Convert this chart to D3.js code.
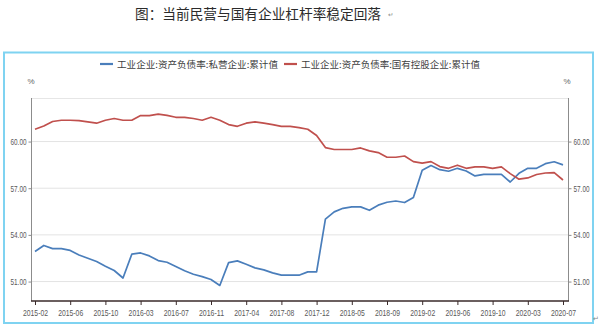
<!DOCTYPE html>
<html>
<head>
<meta charset="utf-8">
<script src="https://cdn.jsdelivr.net/npm/d3@7"></script>
<style>
  html, body { margin: 0; padding: 0; background: #fff; }
  svg { display: block; }
</style>
</head>
<body>
<svg id="chart" width="602" height="329"></svg>
<script>
// Monthly observations (January is reported together with February)
const months = [
  "2015-02","2015-03","2015-04","2015-05","2015-06","2015-07","2015-08","2015-09","2015-10","2015-11","2015-12",
  "2016-02","2016-03","2016-04","2016-05","2016-06","2016-07","2016-08","2016-09","2016-10","2016-11","2016-12",
  "2017-02","2017-03","2017-04","2017-05","2017-06","2017-07","2017-08","2017-09","2017-10","2017-11","2017-12",
  "2018-02","2018-03","2018-04","2018-05","2018-06","2018-07","2018-08","2018-09","2018-10","2018-11","2018-12",
  "2019-02","2019-03","2019-04","2019-05","2019-06","2019-07","2019-08","2019-09","2019-10","2019-11","2019-12",
  "2020-02","2020-03","2020-04","2020-05","2020-06","2020-07"
];

// 工业企业:资产负债率:私营企业:累计值 (%)
const privateRatio = [
  52.93,53.32,53.12,53.12,53.00,52.71,52.50,52.29,51.99,51.71,51.23,
  52.76,52.84,52.65,52.35,52.24,51.97,51.69,51.47,51.32,51.13,50.75,
  52.22,52.33,52.11,51.88,51.75,51.56,51.41,51.41,51.41,51.62,51.62,
  55.01,55.48,55.71,55.80,55.80,55.58,55.91,56.10,56.18,56.08,56.40,
  58.16,58.46,58.19,58.09,58.28,58.11,57.79,57.89,57.89,57.89,57.40,
  57.96,58.28,58.28,58.58,58.70,58.50
];

// 工业企业:资产负债率:国有控股企业:累计值 (%)
const stateRatio = [
  60.79,61.00,61.29,61.37,61.37,61.35,61.26,61.18,61.37,61.48,61.37,
  61.37,61.67,61.67,61.76,61.68,61.56,61.56,61.48,61.37,61.56,61.37,
  61.09,60.98,61.18,61.26,61.18,61.09,60.98,60.97,60.90,60.79,60.39,
  59.61,59.49,59.49,59.49,59.59,59.40,59.29,58.99,58.99,59.07,58.71,
  58.61,58.71,58.39,58.28,58.48,58.28,58.37,58.37,58.28,58.37,57.94,
  57.58,57.66,57.88,57.98,58.00,57.53
];

const xTickLabels = [
  "2015-02","2015-06","2015-10","2016-03","2016-07","2016-11","2017-04","2017-08",
  "2017-12","2018-05","2018-09","2019-02","2019-06","2019-10","2020-03","2020-07"
];
const yTickValues = [51, 54, 57, 60];

const seriesNames = ["工业企业:资产负债率:私营企业:累计值", "工业企业:资产负债率:国有控股企业:累计值"];
const seriesColors = ["#4a7ebb", "#c0504d"];

const svg = d3.select("#chart");
const W = 602, H = 329;
const plot = { left: 31, right: 568, top: 98, bottom: 301 };

svg.append("rect").attr("width", W).attr("height", H).attr("fill", "#fff");

// Title
svg.append("text")
  .attr("x", 135).attr("y", 18.5)
  .attr("font-family", "'Noto Sans CJK SC', sans-serif")
  .attr("font-size", 14).attr("fill", "#2b2b2b")
  .attr("textLength", 246).attr("lengthAdjust", "spacingAndGlyphs")
  .text("图：当前民营与国有企业杠杆率稳定回落");
svg.append("text")
  .attr("x", 388).attr("y", 17)
  .attr("font-family", "'DejaVu Sans', sans-serif")
  .attr("font-size", 6.5).attr("fill", "#888")
  .text("↵");

// Outer frame
svg.append("rect")
  .attr("x", 4).attr("y", 52.5).attr("width", 589).attr("height", 270.5)
  .attr("fill", "none").attr("stroke", "#7fd3f1").attr("stroke-width", 2);
svg.append("text")
  .attr("x", 593).attr("y", 321)
  .attr("font-family", "'DejaVu Sans', sans-serif")
  .attr("font-size", 7).attr("fill", "#888")
  .text("↵");

// Scales
const x = d3.scalePoint().domain(months).range([35, 563]);
const y = d3.scaleLinear().domain([49.75, 62.8]).range([plot.bottom, plot.top]);

// Gridlines
svg.append("g").selectAll("line").data(yTickValues).join("line")
  .attr("x1", plot.left).attr("x2", plot.right)
  .attr("y1", d => y(d)).attr("y2", d => y(d))
  .attr("stroke", "#e3e3e3").attr("stroke-width", 1);

// Top border of plot
svg.append("line")
  .attr("x1", plot.left).attr("x2", plot.right)
  .attr("y1", plot.top + 0.5).attr("y2", plot.top + 0.5)
  .attr("stroke", "#e6e6e6");

const tickFont = "'Liberation Sans', 'DejaVu Sans', sans-serif";

// Left axis
const gl = svg.append("g").attr("transform", `translate(${plot.left + 0.5},0)`)
  .call(d3.axisLeft(y).tickValues(yTickValues).tickFormat(d3.format(".2f")).tickSize(3).tickPadding(2));
gl.select(".domain").remove();
gl.append("line").attr("y1", plot.top).attr("y2", plot.bottom).attr("stroke", "#8c8c8c");
gl.selectAll(".tick line").attr("stroke", "#8c8c8c");
gl.selectAll(".tick text")
  .attr("font-family", tickFont).attr("font-size", 9.5).attr("fill", "#595959")
  .attr("textLength", 16).attr("lengthAdjust", "spacingAndGlyphs");

// Right axis
const gr = svg.append("g").attr("transform", `translate(${plot.right + 0.5},0)`)
  .call(d3.axisRight(y).tickValues(yTickValues).tickFormat(d3.format(".2f")).tickSize(3).tickPadding(2));
gr.select(".domain").remove();
gr.append("line").attr("y1", plot.top).attr("y2", plot.bottom).attr("stroke", "#8c8c8c");
gr.selectAll(".tick line").attr("stroke", "#8c8c8c");
gr.selectAll(".tick text")
  .attr("font-family", tickFont).attr("font-size", 9.5).attr("fill", "#595959")
  .attr("textLength", 16).attr("lengthAdjust", "spacingAndGlyphs");

// Unit labels
svg.append("text").attr("x", 31).attr("y", 84)
  .attr("font-family", tickFont).attr("font-size", 8).attr("fill", "#666")
  .attr("text-anchor", "middle").text("%");
svg.append("text").attr("x", 567).attr("y", 84)
  .attr("font-family", tickFont).attr("font-size", 8).attr("fill", "#666")
  .attr("text-anchor", "middle").text("%");

// Bottom axis
const gb = svg.append("g").attr("transform", `translate(0,${plot.bottom})`)
  .call(d3.axisBottom(x).tickValues(xTickLabels).tickSize(4).tickPadding(4));
gb.select(".domain").remove();
gb.selectAll(".tick line").attr("stroke", "#3a2a2a");
gb.selectAll(".tick text")
  .attr("font-family", tickFont).attr("font-size", 9.5).attr("fill", "#595959")
  .attr("textLength", 25).attr("lengthAdjust", "spacingAndGlyphs");
gb.append("line").attr("x1", plot.left).attr("x2", plot.right + 1)
  .attr("y1", 0).attr("y2", 0)
  .attr("stroke", "#3a2a2a").attr("stroke-width", 1.6);

// Series lines
const line = d3.line().x((d, i) => x(months[i])).y(d => y(d));
[privateRatio, stateRatio].forEach((vals, k) => {
  svg.append("path").datum(vals)
    .attr("fill", "none")
    .attr("stroke", seriesColors[k])
    .attr("stroke-width", 1.7)
    .attr("stroke-linejoin", "round")
    .attr("d", line);
});

// Legend
const legendItems = [
  { x0: 100, tx: 117, len: 161 },
  { x0: 284, tx: 301, len: 179 }
];
legendItems.forEach((it, k) => {
  svg.append("line")
    .attr("x1", it.x0).attr("x2", it.x0 + 13)
    .attr("y1", 64).attr("y2", 64)
    .attr("stroke", seriesColors[k]).attr("stroke-width", 2.2);
  svg.append("text")
    .attr("x", it.tx).attr("y", 67.5)
    .attr("font-family", "'Noto Sans CJK SC', sans-serif")
    .attr("font-size", 9.2).attr("fill", "#404040")
    .attr("textLength", it.len).attr("lengthAdjust", "spacingAndGlyphs")
    .text(seriesNames[k]);
});
</script>
</body>
</html>
